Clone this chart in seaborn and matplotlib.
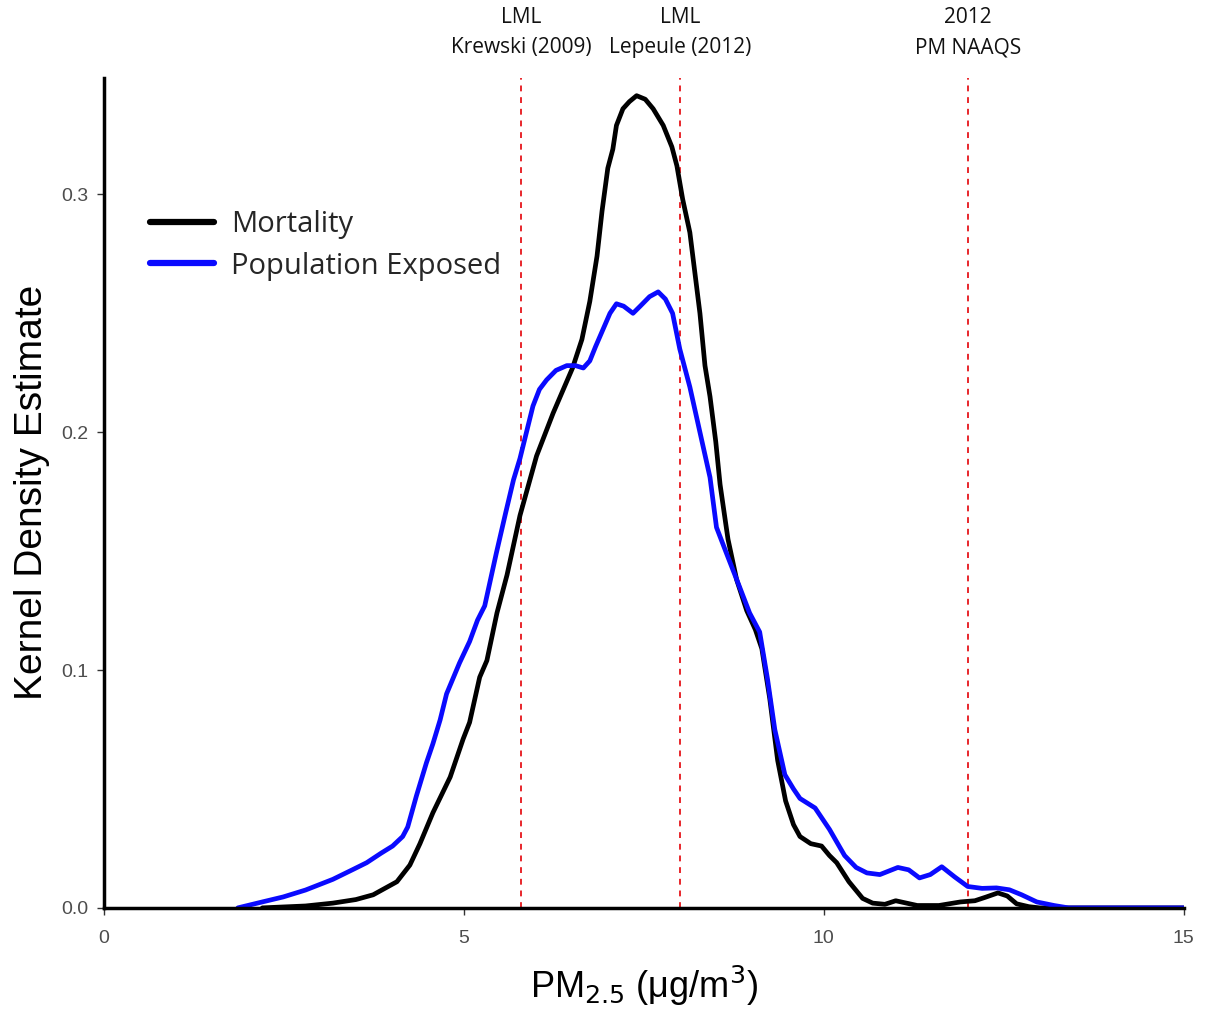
import matplotlib
matplotlib.use("Agg")
import matplotlib.pyplot as plt
import seaborn as sns
import pandas as pd

# ---- data ----
mort_x = [2.2, 2.8, 3.18, 3.5, 3.74, 4.07, 4.25, 4.39, 4.57, 4.81, 4.99, 5.08, 5.22, 5.32, 5.46,
          5.6, 5.78, 6.01, 6.24, 6.51, 6.64, 6.75, 6.85, 6.92, 7.0, 7.07, 7.12, 7.21, 7.30, 7.40,
          7.52, 7.63, 7.77, 7.89, 7.96, 8.04, 8.14, 8.21, 8.28, 8.35, 8.42, 8.50, 8.56, 8.67,
          8.79, 8.93, 9.05, 9.14, 9.25, 9.36, 9.47, 9.58, 9.67, 9.82, 9.97, 10.08, 10.18, 10.35,
          10.54, 10.68, 10.85, 11.0, 11.15, 11.3, 11.6, 11.9, 12.1, 12.25, 12.42, 12.55, 12.68,
          12.85, 13.0, 14.0, 15.0]
mort_y = [0.0, 0.0008, 0.002, 0.0035, 0.0055, 0.011, 0.018, 0.027, 0.040, 0.055, 0.071, 0.078,
          0.097, 0.104, 0.124, 0.140, 0.165, 0.190, 0.208, 0.227, 0.239, 0.255, 0.274, 0.293,
          0.311, 0.319, 0.329, 0.336, 0.339, 0.3415, 0.340, 0.336, 0.329, 0.320, 0.312, 0.298,
          0.284, 0.267, 0.250, 0.228, 0.215, 0.196, 0.178, 0.155, 0.138, 0.125, 0.117, 0.109,
          0.088, 0.062, 0.045, 0.035, 0.030, 0.027, 0.026, 0.022, 0.019, 0.011, 0.004, 0.002,
          0.0015, 0.003, 0.002, 0.001, 0.001, 0.0025, 0.003, 0.0045, 0.0063, 0.005, 0.0017,
          0.0005, 0.0, 0.0, 0.0]

pop_x = [1.86, 2.2, 2.49, 2.8, 3.18, 3.45, 3.65, 3.85, 4.01, 4.15, 4.22, 4.34, 4.48, 4.57, 4.67,
         4.76, 4.94, 5.08, 5.19, 5.29, 5.45, 5.58, 5.69, 5.78, 5.87, 5.96, 6.05, 6.15, 6.28,
         6.43, 6.55, 6.66, 6.75, 6.83, 6.93, 7.03, 7.12, 7.22, 7.35, 7.45, 7.58, 7.70, 7.80,
         7.90, 8.0, 8.07, 8.14, 8.28, 8.42, 8.51, 8.65, 8.83, 8.97, 9.11, 9.22, 9.32, 9.46,
         9.58, 9.67, 9.88, 10.08, 10.29, 10.45, 10.6, 10.78, 11.03, 11.18, 11.33, 11.48, 11.64,
         11.82, 12.0, 12.2, 12.4, 12.58, 12.75, 12.96, 13.2, 13.4, 14.0, 15.0]
pop_y = [0.0, 0.0025, 0.0046, 0.0075, 0.012, 0.016, 0.019, 0.023, 0.026, 0.030, 0.034, 0.047,
         0.061, 0.069, 0.079, 0.090, 0.103, 0.112, 0.121, 0.127, 0.149, 0.166, 0.180, 0.189,
         0.200, 0.211, 0.218, 0.222, 0.226, 0.228, 0.228, 0.227, 0.230, 0.236, 0.243, 0.250,
         0.254, 0.253, 0.250, 0.253, 0.257, 0.259, 0.256, 0.250, 0.235, 0.227, 0.219, 0.200,
         0.181, 0.160, 0.149, 0.135, 0.124, 0.116, 0.096, 0.075, 0.056, 0.050, 0.046, 0.042,
         0.033, 0.022, 0.017, 0.0147, 0.014, 0.017, 0.016, 0.0126, 0.014, 0.0173, 0.013, 0.009,
         0.0082, 0.0084, 0.0076, 0.0055, 0.0025, 0.001, 0.0, 0.0, 0.0]

vline_x = [5.8, 8.0, 12.0]
vline_labels = ["LML\nKrewski (2009)", "LML\nLepeule (2012)", "2012\nPM NAAQS"]
series_names = ["Mortality", "Population Exposed"]
series_colors = ["#000000", "#0a0aff"]

df = pd.concat([
    pd.DataFrame({"x": mort_x, "y": mort_y, "series": series_names[0]}),
    pd.DataFrame({"x": pop_x, "y": pop_y, "series": series_names[1]}),
], ignore_index=True)

sns.set_theme(style="white")
plt.rcParams["font.family"] = ["Liberation Sans", "DejaVu Sans"]

fig = plt.figure(figsize=(12.09, 10.11), dpi=100)
ax = fig.add_axes([0.086, 0.102, 0.893, 0.821])

for name, col in zip(series_names, series_colors):
    sub = df[df["series"] == name]
    sns.lineplot(data=sub, x="x", y="y", ax=ax, color=col, linewidth=3.4,
                 sort=False, estimator=None, label=name)

for vx, lab in zip(vline_x, vline_labels):
    ax.axvline(vx, color="#e8262b", linestyle=(0, (3, 3)), linewidth=1.4, zorder=0)
    ax.text(vx, 1.0545, lab, transform=ax.get_xaxis_transform(), ha="center", va="center",
            fontsize=15, family=["Open Sans", "DejaVu Sans"], color="#111111",
            linespacing=1.55)

ax.set_xlim(0, 15)
ax.set_ylim(0, 0.349)
ax.set_xticks([0, 5, 10, 15])
ax.set_yticks([0.0, 0.1, 0.2, 0.3])
ax.set_yticklabels(["0.0", "0.1", "0.2", "0.3"])
ax.tick_params(axis="both", which="both", direction="out", length=5, width=1,
               colors="#333333", labelsize=14, labelcolor="#4d4d4d", bottom=True, left=True,
               pad=6)
ax.tick_params(axis="x", pad=11)

for s in ["top", "right"]:
    ax.spines[s].set_visible(False)
for s in ["left", "bottom"]:
    ax.spines[s].set_color("black")
    ax.spines[s].set_linewidth(2.5)

ax.set_xlabel(r"PM$_{2.5}$ ($\mathregular{\mu}$g/m$^3$)", fontsize=26, labelpad=12, color="black")
ax.set_ylabel("Kernel Density Estimate", fontsize=28, labelpad=8, color="black")

leg = ax.legend(loc="upper left", bbox_to_anchor=(0.018, 0.872), frameon=False,
                prop={"family": ["Open Sans", "DejaVu Sans"], "size": 21},
                handlelength=2.2, handletextpad=0.6, labelspacing=0.42)
for line in leg.get_lines():
    line.set_linewidth(4.5)

fig.savefig("out.png", dpi=100)
